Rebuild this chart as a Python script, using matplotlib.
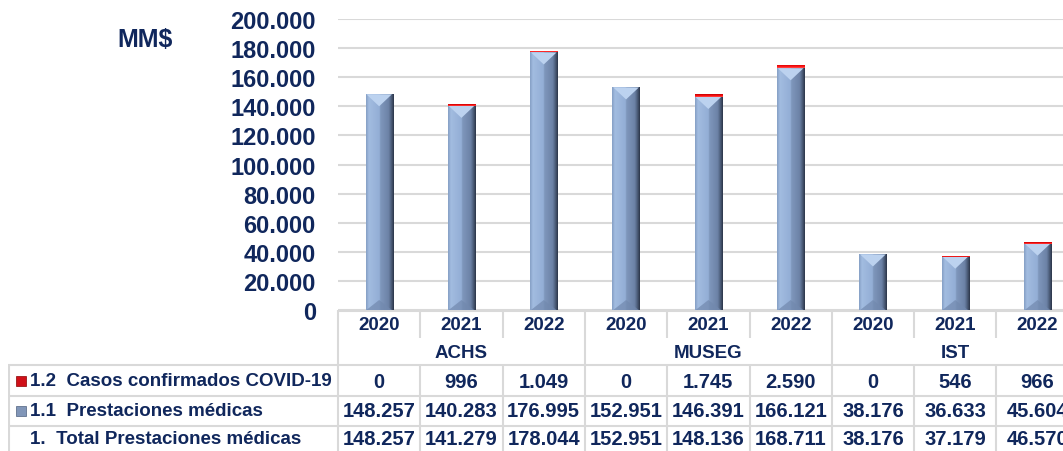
import matplotlib.pyplot as plt
import numpy as np
from matplotlib.colors import LinearSegmentedColormap
from matplotlib.patches import Polygon, Rectangle

plt.rcParams['font.family'] = ['Liberation Sans', 'DejaVu Sans']
plt.rcParams['font.weight'] = 'bold'

groups = ["ACHS", "MUSEG", "IST"]
years = ["2020", "2021", "2022"]
prestaciones = [148257, 140283, 176995, 152951, 146391, 166121, 38176, 36633, 45604]
covid = [0, 996, 1049, 0, 1745, 2590, 0, 546, 966]
row_labels = ["1.2  Casos confirmados COVID-19", "1.1  Prestaciones médicas",
              "1.  Total Prestaciones médicas"]
yticks = [0, 20000, 40000, 60000, 80000, 100000, 120000, 140000, 160000, 180000, 200000]

navy = "#10275c"
grid_c = "#d9d9d9"

def fmt(v):
    return f"{v:,}".replace(",", ".")

total = [p + c for p, c in zip(prestaciones, covid)]
n = len(prestaciones)
x = np.arange(n)

W, H = 1063, 452
fig = plt.figure(figsize=(W / 100, H / 100), dpi=100)
colw = 82.3
left_px, bottom_px, top_px = 338, 311, 20
ax = fig.add_axes([left_px / W, (H - bottom_px) / H, n * colw / W, (bottom_px - top_px) / H])
ax.set_xlim(-0.5, n - 0.5)
ax.set_ylim(0, 200000)
ax.set_yticks(yticks)
ax.set_yticklabels([fmt(v) for v in yticks], fontsize=17, color=navy, fontweight='bold')
ax.tick_params(axis='y', length=0, pad=16)
ax.set_xticks([])
for s in ax.spines.values():
    s.set_visible(False)
ax.grid(axis='y', color=grid_c, lw=1.5)
ax.set_axisbelow(True)

bw = 0.33
px = 200000 / (bottom_px - top_px)  # data units per pixel
blue_cmap = LinearSegmentedColormap.from_list(
    "bar", [(0, "#86a0c6"), (0.1, "#a2bce0"), (0.48, "#93aed5"), (0.52, "#7f97bc"),
            (0.82, "#6c82a6"), (0.92, "#4a5a76"), (1, "#2c374a")])
red_cmap = LinearSegmentedColormap.from_list(
    "red", [(0, "#ff5050"), (0.4, "#ff1010"), (1, "#c00000")])
grad = np.linspace(0, 1, 64).reshape(1, -1)

bars = ax.bar(x, prestaciones, bw, color="#8ea9d0", zorder=2)
for b in bars:
    x0, w, h = b.get_x(), b.get_width(), b.get_height()
    im = ax.imshow(grad, cmap=blue_cmap, extent=[x0, x0 + w, 0, h], aspect='auto', zorder=2.1)
    im.set_clip_path(b)
    ax.add_patch(Polygon([(x0 + w * 0.03, h), (x0 + w * 0.97, h), (x0 + w / 2, h - 12 * px)],
                         closed=True, facecolor="#bcd2ef", edgecolor="none", zorder=2.2))
    ax.add_patch(Polygon([(x0 + w * 0.03, 0), (x0 + w * 0.97, 0), (x0 + w / 2, 10 * px)],
                         closed=True, facecolor="#7289ae", edgecolor="none", alpha=0.7, zorder=2.2))

reds = ax.bar(x, covid, bw, bottom=prestaciones, color="#ff1010", zorder=2)
for b in reds:
    if b.get_height() > 0:
        x0, w, h, y0 = b.get_x(), b.get_width(), b.get_height(), b.get_y()
        im = ax.imshow(grad.T[::-1], cmap=red_cmap, extent=[x0, x0 + w, y0, y0 + h],
                       aspect='auto', zorder=2.3)
        im.set_clip_path(b)

ax.set_autoscale_on(False)
fig.text(117 / W, (H - 40) / H, "MM$", fontsize=18, color=navy, fontweight='bold', va='center')

# table below
lab_px = 8
tx0 = -0.5 - (left_px - lab_px) / colw
tab = fig.add_axes([lab_px / W, 0, (n * colw + left_px - lab_px) / W, (H - bottom_px) / H])
tab.set_xlim(tx0, n - 0.5)
tab.set_ylim(H, bottom_px)
tab.axis('off')

lw = 1.5
tab.hlines(bottom_px + 0.5, -0.5, n - 0.5, color=grid_c, lw=lw)
for yy in [366, 397, 427]:
    tab.hlines(yy, tx0, n - 0.5, color=grid_c, lw=lw)
tab.vlines(-0.5, bottom_px, H, color=grid_c, lw=lw)
tab.vlines(tx0 + 0.01, 366, H, color=grid_c, lw=lw)
for k in range(1, n):
    if k % 3 == 0:
        tab.vlines(k - 0.5, bottom_px, H, color=grid_c, lw=lw)
    else:
        tab.vlines(k - 0.5, bottom_px, 339, color=grid_c, lw=lw)
        tab.vlines(k - 0.5, 366, H, color=grid_c, lw=lw)

fs = 13.5
fsn = 14.5
for i in range(n):
    tab.text(i, 326, years[i % 3], ha='center', va='center', fontsize=fs, color=navy, fontweight='bold')
    tab.text(i, 382, fmt(covid[i]), ha='center', va='center', fontsize=fsn, color=navy, fontweight='bold')
    tab.text(i, 412, fmt(prestaciones[i]), ha='center', va='center', fontsize=fsn, color=navy, fontweight='bold')
    tab.text(i, 440, fmt(total[i]), ha='center', va='center', fontsize=fsn, color=navy, fontweight='bold')
for g, name in enumerate(groups):
    tab.text(g * 3 + 1, 353, name, ha='center', va='center', fontsize=fs, color=navy, fontweight='bold')

lab_x = tx0 + 22 / colw
for yy, lab in zip([382, 412, 440], row_labels):
    tab.text(lab_x, yy, lab, ha='left', va='center', fontsize=fs, color=navy, fontweight='bold')

# legend swatches
sw = 10 / colw
tab.add_patch(Rectangle((tx0 + 8 / colw, 387), sw, -10, facecolor="#d01018", edgecolor="#8a0000", lw=0.5))
tab.add_patch(Rectangle((tx0 + 8 / colw, 417), sw, -10, facecolor="#8196b8", edgecolor="#4e607e", lw=0.5))

fig.savefig("out.png", dpi=100)
